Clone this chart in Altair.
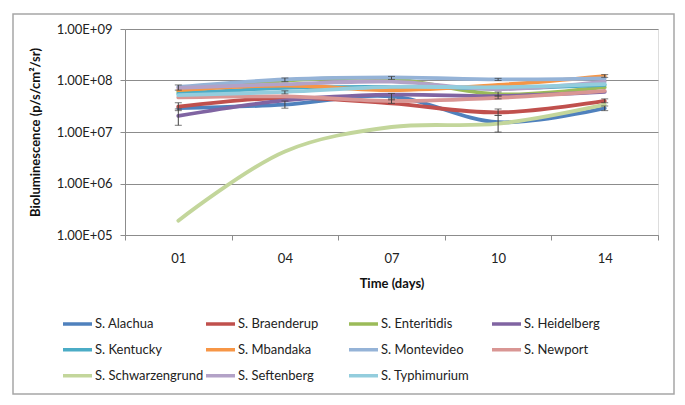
import altair as alt
import pandas as pd

days = ["01", "04", "07", "10", "14"]
series = ["S. Alachua", "S. Braenderup", "S. Enteritidis", "S. Heidelberg",
          "S. Kentucky", "S. Mbandaka", "S. Montevideo", "S. Newport",
          "S. Schwarzengrund", "S. Seftenberg", "S. Typhimurium"]
colors = ["#4F81BD", "#C0504D", "#9BBB59", "#8064A2", "#4BACC6", "#F79646",
          "#95B3D7", "#D99694", "#C3D69B", "#B3A2C7", "#93CDDD"]

alachua = [2.9e7, 3.4e7, 4.9e7, 1.55e7, 2.9e7]
braenderup = [3.1e7, 4.6e7, 3.6e7, 2.4e7, 4.0e7]
enteritidis = [6.0e7, 1.0e8, 1.08e8, 5.4e7, 7.4e7]
heidelberg = [2.05e7, 4.1e7, 5.3e7, 5.0e7, 6.0e7]
kentucky = [5.5e7, 7.2e7, 7.5e7, 7.0e7, 8.2e7]
mbandaka = [6.5e7, 8.0e7, 6.5e7, 8.2e7, 1.22e8]
montevideo = [7.5e7, 1.05e8, 1.15e8, 1.05e8, 1.1e8]
newport = [4.7e7, 4.9e7, 4.0e7, 4.6e7, 6.3e7]
schwarzengrund = [1.9e5, 4.2e6, 1.25e7, 1.45e7, 3.4e7]
seftenberg = [7.2e7, 8.5e7, 9.5e7, 6.8e7, 9.5e7]
typhimurium = [5.2e7, 6.0e7, 7.5e7, 7.4e7, 8.5e7]

values = [alachua, braenderup, enteritidis, heidelberg, kentucky, mbandaka,
          montevideo, newport, schwarzengrund, seftenberg, typhimurium]

# error bars (visible ones): series, day, low, high
err_series = ["S. Heidelberg", "S. Braenderup", "S. Montevideo", "S. Alachua",
              "S. Montevideo", "S. Typhimurium", "S. Montevideo", "S. Alachua",
              "S. Newport", "S. Alachua", "S. Braenderup", "S. Montevideo",
              "S. Enteritidis", "S. Newport", "S. Alachua", "S. Mbandaka",
              "S. Braenderup"]
err_day = ["01", "01", "01", "04", "04", "04", "07", "07", "07", "10", "10",
           "10", "10", "10", "14", "14", "14"]
err_low = [1.35e7, 2.6e7, 6.5e7, 2.9e7, 9.5e7, 5.5e7, 1.05e8, 4.2e7, 3.6e7,
           1.0e7, 2.1e7, 1.0e8, 5.0e7, 4.4e7, 2.6e7, 1.15e8, 3.7e7]
err_high = [2.8e7, 3.7e7, 8.2e7, 4.0e7, 1.12e8, 6.3e7, 1.2e8, 5.6e7, 4.4e7,
            2.1e7, 2.8e7, 1.1e8, 6.0e7, 5.0e7, 3.2e7, 1.3e8, 4.4e7]

rows = []
for s, vals in zip(series, values):
    for d, v in zip(days, vals):
        rows.append({"series": s, "day": d, "value": v})
df = pd.DataFrame(rows)
err = pd.DataFrame({"series": err_series, "day": err_day, "low": err_low, "high": err_high})

FONT = "Lato"

x_enc = alt.X("day:O", sort=days,
              scale=alt.Scale(type="band", paddingInner=0, paddingOuter=0),
              axis=alt.Axis(title="Time (days)", labelAngle=0, tickBand="extent",
                            tickSize=5, labelPadding=12, titlePadding=12,
                            domainColor="#8C8C8C", tickColor="#8C8C8C",
                            labelFontSize=13, titleFontSize=13,
                            titleFontWeight="bold", labelColor="#222222",
                            titleColor="#111111", grid=False))

y_scale = alt.Scale(type="log", domain=[1e5, 1e9])

lines = alt.Chart(df).mark_line(strokeWidth=3.8, interpolate="catmull-rom",
                                strokeCap="round").encode(
    x=x_enc,
    y=alt.Y("value:Q", scale=y_scale,
            axis=alt.Axis(title="Bioluminescence (p/s/cm²/sr)",
                          values=[1e5, 1e6, 1e7, 1e8, 1e9],
                          labelExpr="'1.00E+' + (round(log(datum.value)/LN10) < 10 ? '0' : '') + round(log(datum.value)/LN10)",
                          tickSize=5, labelPadding=8, titlePadding=14,
                          domainColor="#8C8C8C", tickColor="#8C8C8C",
                          gridColor="#8C8C8C", grid=True,
                          labelFontSize=13, titleFontSize=13,
                          titleFontWeight="bold", labelColor="#222222",
                          titleColor="#111111")),
    color=alt.Color("series:N", sort=series,
                    scale=alt.Scale(domain=series, range=colors),
                    legend=alt.Legend(title=None, orient="none", legendX=-64,
                                      legendY=282, columns=4, gridAlign="all",
                                      direction="horizontal",
                                      symbolType="stroke", symbolSize=841,
                                      symbolStrokeWidth=3.5, labelOffset=1,
                                      columnPadding=-6, rowPadding=0,
                                      clipHeight=25.5,
                                      labelFontSize=13, labelColor="#222222",
                                      labelLimit=200)),
    order=alt.Order("day:O"),
)

rules = alt.Chart(err).mark_rule(color="#404040", strokeWidth=1).encode(
    x=alt.X("day:O", sort=days), y=alt.Y("low:Q", scale=y_scale), y2="high:Q")
caps_low = alt.Chart(err).mark_tick(color="#404040", size=7, thickness=1).encode(
    x=alt.X("day:O", sort=days), y=alt.Y("low:Q", scale=y_scale))
caps_high = alt.Chart(err).mark_tick(color="#404040", size=7, thickness=1).encode(
    x=alt.X("day:O", sort=days), y=alt.Y("high:Q", scale=y_scale))

frame = alt.Chart(pd.DataFrame({"a": [0]})).mark_rect(
    fill="transparent", stroke="#A6A6A6", strokeWidth=1.5).encode(
    x=alt.value(-112), x2=alt.value(549), y=alt.value(-15), y2=alt.value(365))

chart = alt.layer(frame, lines, rules, caps_low, caps_high).properties(
    width=533, height=206,
    autosize=alt.AutoSizeParams(type="none"),
    padding={"left": 117, "top": 21, "right": 19, "bottom": 162},
).configure_view(stroke=None).configure(font=FONT, background="white")

chart.save("out.html", embed_options={"renderer": "svg", "actions": False})
